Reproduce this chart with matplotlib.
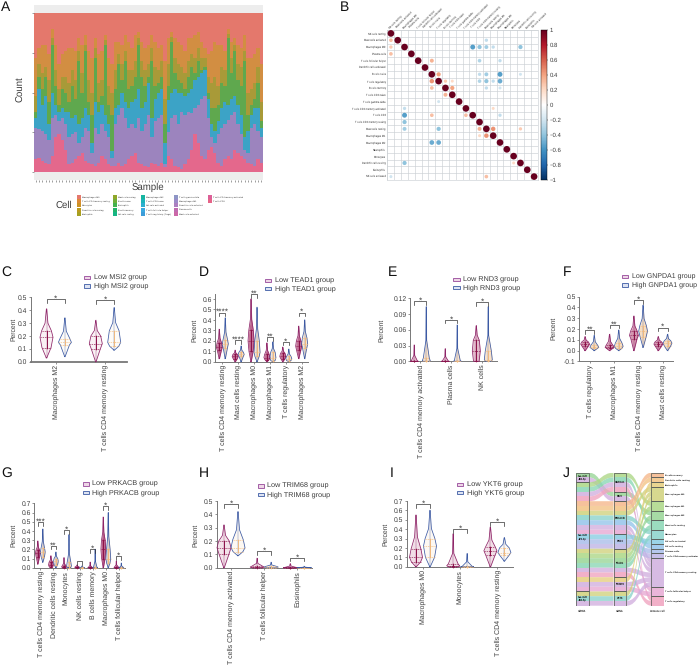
import numpy as np
import matplotlib
matplotlib.use("Agg")
import matplotlib.pyplot as plt
from matplotlib.patches import Rectangle, PathPatch
from matplotlib.path import Path
from matplotlib.colors import LinearSegmentedColormap, Normalize
from matplotlib.cm import ScalarMappable

plt.rcParams['font.family'] = ['Liberation Sans', 'DejaVu Sans']
plt.rcParams['text.hinting'] = 'no_hinting'
W, H = 698, 666
fig = plt.figure(figsize=(W / 100, H / 100), dpi=100, facecolor='white')
TXT = '#3c3c3c'

# ---------------- DATA: panel A (cumulative tops in % for each sample)
pink_top = [8,9,7,6,5,10,22,24,20,14, 5,6,8,10,12,7,6,5,4,6, 10,8,5,4,4,6,4,5,8,10,
            12,6,5,4,3,6,5,4,6,3, 10,8,4,3,2,5,8,14,24,18, 10,8,14,16,12,6,4,8,10,8,
            14,12,10,8,6,5,4,8,6]
purple_top = [28,27,26,24,20,34,36,32,34,30, 22,24,25,18,22,28,26,12,28,24, 30,26,22,9,30,36,40,34,28,30,
              28,34,26,30,36,22,32,34,36,5, 25,34,36,30,38,36,38,37,40,42, 46,48,34,22,18,24,28,30,33,36,
              38,30,24,14,12,28,30,26,22]
blue_top = [34,52,42,48,30,50,42,38,40,38, 38,34,36,30,34,40,36,18,44,38, 42,36,30,13,40,42,50,44,40,44,
            46,52,40,44,56,34,46,50,52,18, 45,50,52,50,50,48,50,52,58,60, 62,64,46,30,26,32,40,44,42,46,
            48,42,36,22,26,36,40,40,28]
green_top = [38,60,52,60,44,80,54,42,52,50, 44,54,46,70,50,76,44,36,72,44, 48,80,42,36,52,68,58,70,52,54,
             60,80,60,54,60,70,54,56,60,30, 54,82,62,58,56,52,60,66,62,70, 64,66,50,40,40,42,56,54,84,62,
             76,58,54,70,36,42,46,56,32]
olive_top = [48,68,62,66,58,84,64,52,60,60, 56,64,58,76,62,80,58,50,78,56, 58,83,54,50,64,74,68,76,64,64,
             70,84,70,64,68,78,66,64,70,46, 68,85,72,68,66,62,70,74,72,78, 72,72,60,56,60,54,66,64,87,72,
             80,68,66,76,50,52,56,66,44]
orange_top = [72,78,80,80,74,90,80,68,74,76, 78,78,76,84,80,86,76,72,84,74, 76,86,72,68,82,82,80,86,82,78,
              86,88,82,78,80,86,82,78,80,70, 84,88,84,82,80,76,84,84,86,88, 82,78,74,76,82,80,80,76,90,82,
              84,80,78,86,72,72,74,78,68]
red_top = [100] * len(pink_top)
stack_tops = [pink_top, purple_top, blue_top, green_top, olive_top, orange_top, red_top]
stack_colors = ['#E4688C', '#9C84BE', '#3CA3C6', '#5FA84E', '#A89A38', '#D28E42', '#E4786C']

legend_cells = ['Macrophages M0', 'T cells CD4 memory resting', 'Monocytes', 'Dendritic cells resting', 'Neutrophils',
                'Mast cells resting', 'B cells naive', 'Eosinophils', 'B cells memory', 'NK cells resting',
                'Macrophages M2', 'T cells CD8 naive', 'NK cells activated', 'T cells follicular helper',
                'T cells regulatory (Tregs)',
                'T cells gamma delta', 'Macrophages M1', 'Dendritic cells activated', 'Plasma cells',
                'Mast cells activated', 'T cells CD4 memory activated', 'T cells CD8']
legend_colors = ['#E5786D', '#DB8A36', '#CC9225', '#BA9A1E', '#A6A021', '#8FA72A', '#6FAE3A', '#44B24E', '#22B46B',
                 '#16B585', '#17B5A0', '#1CB3B9', '#2CAFCF', '#3AA8E0', '#3C9CD8', '#8E96C6', '#9C8BC8', '#AC7FC0',
                 '#C06CB0', '#CC68A8', '#DC6098', '#E66488']

# ---------------- DATA: panel B
corr_names = ['NK cells resting', 'Mast cells activated', 'Macrophages M0', 'Plasma cells',
              'T cells follicular helper', 'Dendritic cells activated', 'B cells naive', 'T cells regulatory',
              'B cells memory', 'T cells CD4 naive', 'T cells gamma delta', 'T cells CD4 memory activated',
              'T cells CD8', 'T cells CD4 memory resting', 'Mast cells resting', 'Macrophages M1',
              'Macrophages M2', 'Neutrophils', 'Monocytes', 'Dendritic cells resting', 'Eosinophils',
              'NK cells activated']
corr_rows = [1,1, 2,2,2,2,2,2, 3, 4,4,4, 6,6,6,6,6, 7,7,7,7,7,7,7, 8,8,8,8, 9, 10, 11,11, 12,12,12,12,
             13, 14,14,14,14,14, 15,15, 16,16, 19,19, 21,21]
corr_cols = [0,14, 0,12,13,14,15,19, 0, 6,13,16, 7,13,14,16,19, 6,8,9,13,14,15,16, 6,9,14,16, 8, 7, 2,15, 2,6,11,16,
             2, 2,7,13,15,19, 13,14, 6,7, 2,18, 0,14]
corr_vals = [.3,-.25, .25,-.55,-.4,-.35,-.25,-.4, .3, .35,-.3,-.25, .4,-.25,-.35,-.55,-.2, .45,.25,.2,-.3,-.4,-.25,-.5,
             .3,.4,-.25,-.2, .35, -.2, -.25,.2, -.55,.3,.3,-.25, -.4, -.35,-.4,.35,.45,.25, .2,.45, -.5,-.5, -.4,.2,
             -.2,.3]

# ---------------- DATA: violin panels [min, q1, median, q3, max]
c_cells = ['Macrophages M2', 'T cells CD4 memory resting']
c_low = [[.03,.11,.19,.24,.41], [.0,.10,.14,.20,.32]]
c_high = [[.04,.13,.15,.18,.34], [.09,.12,.15,.24,.42]]
c_brackets = [.487, .477]
c_stars = ['*', '*']

d_cells = ['T cells CD4 memory resting', 'Mast cells resting', 'Macrophages M0', 'Macrophages M1',
           'T cells regulatory', 'Macrophages M2']
d_low = [[.03,.11,.14,.18,.31], [.0,.03,.05,.07,.11], [.0,.1,.2,.3,.60], [.0,.02,.04,.07,.18], [.0,.03,.05,.08,.14],
         [.03,.11,.15,.2,.34]]
d_high = [[.03,.13,.17,.21,.42], [.0,.05,.07,.09,.15], [.0,.05,.09,.2,.52], [.0,.01,.04,.09,.19], [.0,.01,.03,.05,.12],
          [.03,.13,.17,.23,.40]]
d_brackets = [.47, .205, .645, .236, .19, .47]
d_stars = ['****', '****', '**', '**', '*', '*']

e_cells = ['T cells CD4 memory activated', 'Plasma cells', 'NK cells']
e_low = [[0,0,0,.001,.031], [0,0,0,.0005,.024], [0,0,.02,.04,.068]]
e_high = [[0,0,.001,.006,.104], [0,0,0,.001,.069], [0,0,.003,.02,.104]]
e_brackets = [.115, .079, .113]
e_stars = ['*', '*', '*']

f_cells = ['T cells regulatory', 'Macrophages M1', 'T cells CD4 memory resting', 'Mast cells resting']
f_low = [[0,.04,.06,.08,.13], [0,.02,.03,.05,.15], [0,.11,.14,.18,.32], [0,.04,.06,.08,.13]]
f_high = [[0,.02,.03,.05,.14], [0,.02,.04,.07,.19], [.03,.13,.18,.23,.42], [0,.04,.07,.09,.15]]
f_brackets = [.19, .24, .467, .213]
f_stars = ['**', '**', '*', '*']

g_cells = ['T cells CD4 memory resting', 'Dendritic cells resting', 'Monocytes', 'NK cells resting', 'B cells memory',
           'Macrophages M0', 'T cells follicular helper']
g_low = [[.04,.12,.16,.19,.29], [0,.01,.03,.06,.13], [0,0,.01,.02,.11], [0,0,.005,.01,.03], [0,0,0,.005,.06],
         [0,.1,.2,.3,.55], [0,0,0,.01,.07]]
g_high = [[.06,.12,.17,.21,.42], [0,.03,.07,.1,.17], [0,0,.02,.06,.36], [0,0,0,.003,.02], [0,0,0,.003,.2],
          [0,.05,.1,.2,.6], [0,0,0,.005,.05]]
g_brackets = [.493, .239, .409, .072, .203, .67, .127]
g_stars = ['***', '**', '*', '', '*', '*', '*']

h_cells = ['T cells CD4 memory activated', 'T cells follicular helper', 'Eosinophils']
h_low = [[0,.10,.15,.2,.32], [0,0,.005,.012,.07], [0,0,0,.003,.03]]
h_high = [[.09,.12,.15,.21,.42], [0,0,.005,.01,.04], [0,0,0,.001,.01]]
h_brackets = [.478, .125, .075]
h_stars = ['*', '*', '*']

i_cells = ['Macrophages M0', 'Monocytes', 'T cells CD4 memory resting']
i_low = [[0,.05,.1,.19,.55], [0,0,.01,.03,.35], [0,.12,.17,.21,.42]]
i_high = [[0,.1,.22,.3,.6], [0,0,0,.005,.14], [.06,.12,.15,.2,.31]]
i_brackets = [.665, .398, .473]
i_stars = ['*', '*', '*']

# ---------------- DATA: panel J (one record per flow)
mirna_labels = ['hsa-miR\n-804-5p', 'hsa-miR\n-874-3p', 'hsa-miR\n-584-5p']
flow_genes = ['MSI2', 'MSI2',
              'GNPDA1', 'GNPDA1', 'GNPDA1', 'GNPDA1',
              'PRKACB', 'PRKACB', 'PRKACB', 'PRKACB', 'PRKACB', 'PRKACB', 'PRKACB',
              'RND3', 'RND3', 'RND3',
              'TEAD1', 'TEAD1', 'TEAD1', 'TEAD1', 'TEAD1', 'TEAD1',
              'TRIM68', 'TRIM68', 'TRIM68',
              'YKT6', 'YKT6', 'YKT6']
flow_mirna = [0, 0] + [1] * 23 + [2] * 3
flow_cells = ['Macrophages M2', 'T cells CD4 memory resting',
              'Macrophages M1', 'Mast cells resting', 'T cells CD4 memory resting', 'T cells regulatory',
              'B cells memory', 'Dendritic cells resting', 'Macrophages M0', 'Monocytes', 'NK cells resting',
              'T cells CD4 memory resting', 'T cells follicular helper',
              'NK cells activated', 'Plasma cells', 'T cells CD4 memory activated',
              'Macrophages M0', 'Macrophages M1', 'Macrophages M2', 'Mast cells resting',
              'T cells CD4 memory resting', 'T cells regulatory',
              'Eosinophils', 'T cells CD4 memory resting', 'T cells follicular helper',
              'Macrophages M0', 'Monocytes', 'T cells CD4 memory resting']
alluvial_cells = ['B cells memory', 'Dendritic cells resting', 'Eosinophils', 'Macrophages M0', 'Macrophages M1',
                  'Macrophages M2', 'Mast cells resting', 'Monocytes', 'NK cells activated', 'NK cells resting',
                  'Plasma cells', 'T cells CD4 memory activated', 'T cells CD4 memory resting',
                  'T cells follicular helper', 'T cells regulatory']
alluvial_colors = ['#F5B78A', '#F3C283', '#E6CE7E', '#D0D27C', '#ACD786', '#98D596', '#8AD6B4', '#8AD3CB', '#8ACDE2',
                   '#94C4EA', '#A9BDEA', '#BEB4E6', '#D1AFDE', '#E7A8D3', '#F0A3BF']
gene_order = ['GNPDA1', 'MSI2', 'PRKACB', 'RND3', 'TEAD1', 'TRIM68', 'YKT6']


# ---------------- helpers
def make_axes(left, right, top, bottom):
    return fig.add_axes([left / W, 1 - bottom / H, (right - left) / W, (bottom - top) / H])


def ftext(x, y, s, **kw):
    kw.setdefault('color', TXT)
    return fig.text(x / W, 1 - y / H, s, **kw)


def frect(x, y, w, h, **kw):
    fig.add_artist(Rectangle((x / W, 1 - (y + h) / H), w / W, h / H, transform=fig.transFigure, **kw))


def violin(ax, xc, stats, hw, edge, fill, alpha, inner):
    lo, q1, med, q3, hi = stats
    shoulder = .22 if q3 > .3 * hi else .09
    ys = np.array([lo, q1, med, q3, q3 + (hi - q3) * .35, hi])
    ws = np.array([.04, .7, 1, .75, shoulder, .02]) * hw
    ax.fill_betweenx(ys, xc - ws, xc + ws, color=fill, alpha=alpha, lw=0, clip_on=False, zorder=2)
    px = np.r_[xc - ws, (xc + ws)[::-1], xc - ws[0]]
    py = np.r_[ys, ys[::-1], ys[0]]
    ax.plot(px, py, color=edge, lw=.55, clip_on=False, zorder=3)
    ax.plot([xc, xc], [lo, hi], color=edge, lw=.35, alpha=.7, clip_on=False, zorder=3)
    ax.plot([xc, xc], [q1, q3], color=inner, lw=.7, clip_on=False, zorder=4)
    for q, wq in ((q1, .7), (med, 1), (q3, .75)):
        ax.plot([xc - wq * hw, xc + wq * hw], [q, q], color=inner, lw=.45, ls=(0, (2, 1.5)), clip_on=False, zorder=4)
    ax.scatter([xc] * 3, [q1, med, q3], s=1.4, color=inner, lw=0, clip_on=False, zorder=5)


def violin_panel(cells, low, high, brackets, stars, gene, box, ylim, ystep, first, spacing, offset, hw, fills,
                 ylab, leg, spine=.7):
    left, right, top, bottom = box
    ax = make_axes(left, right, top, bottom)
    ax.patch.set_alpha(0)
    ax.set_xlim((left - first) / spacing, (right - first) / spacing)
    ax.set_ylim(*ylim)
    d, w = offset / spacing, hw / spacing
    for i in range(len(cells)):
        violin(ax, i - d, low[i], w, '#8E2468', '#A01850', fills[0], '#8A1048')
        violin(ax, i + d, high[i], w, '#3C5AA4', '#F2BE86', fills[1], '#F0B97E')
        ax.plot([i - d, i - d, i + d, i + d],
                [brackets[i] - 3.6 * (ylim[1] - ylim[0]) / (bottom - top), brackets[i], brackets[i],
                 brackets[i] - 3.6 * (ylim[1] - ylim[0]) / (bottom - top)],
                color='#333333', lw=.5, clip_on=False, zorder=6)
        ax.annotate(stars[i], (i, brackets[i]), xytext=(0, .4), textcoords='offset points', ha='center', va='center',
                    fontsize=6, color=TXT, annotation_clip=False)
    ax.set_xticks(range(len(cells)))
    ax.set_xticklabels(cells, rotation=90, ha='center', va='top', fontsize=5.05, color=TXT)
    ticks = np.arange(0, (ylim[1] - ylim[0]) / ystep + .5).astype(int) * ystep + ylim[0]
    ticks = ticks[ticks <= ylim[1] + 1e-9]
    ax.set_yticks(ticks)
    ax.set_yticklabels(['%.2f' % t if ystep < .1 else '%.1f' % t for t in ticks], fontsize=4.9, color=TXT)
    ax.tick_params(length=1.5, width=.5, pad=1, color='#666666')
    for s in ('top', 'right'):
        ax.spines[s].set_visible(False)
    ax.spines['left'].set_color('#777777')
    ax.spines['left'].set_linewidth(.7)
    ax.spines['bottom'].set_color('#777777')
    ax.spines['bottom'].set_linewidth(spine)
    ftext(ylab[0], ylab[1], 'Percent', rotation=90, ha='center', va='center', fontsize=4.9)
    lx, ly1, ly2, tx, fs = leg
    frect(lx, ly1 - 1.6, 6.4, 3.2, facecolor='#EED6E6', edgecolor='#96489A', lw=.6)
    frect(lx, ly2 - 1.6, 6.4, 3.2, facecolor='#DDE3F2', edgecolor='#3C5AA4', lw=.6)
    ftext(tx, ly1, 'Low %s group' % gene, ha='left', va='center', fontsize=fs)
    ftext(tx, ly2, 'High %s group' % gene, ha='left', va='center', fontsize=fs)
    return ax


# ---------------- Panel A
ax = make_axes(34, 263, 5, 180)
ax.set_facecolor('#EDEDED')
tops = np.array(stack_tops, float) / 100
xs = np.arange(tops.shape[1])
bottoms = np.zeros(tops.shape[1])
for t, col in zip(tops, stack_colors):
    ax.bar(xs, t - bottoms, bottom=bottoms, width=1.03, color=col, lw=0)
    bottoms = t.copy()
ax.set_xlim(-.5, tops.shape[1] - .5)
ax.set_ylim(-.05, 1.05)
ax.set_yticks([0, .25, .5, .75, 1])
ax.set_yticklabels([])
ax.set_xticks(xs)
ax.set_xticklabels([])
ax.tick_params(axis='y', length=1.5, width=.4, color='#555555')
ax.tick_params(axis='x', length=1.2, width=.5, color='#777777', pad=0)
for s in ax.spines.values():
    s.set_visible(False)
ftext(148, 187, 'Sample', ha='center', va='center', fontsize=6.9)
ftext(21, 89, 'Count', rotation=90, ha='center', va='center', fontsize=6.9)
ftext(56, 205.7, 'Cell', ha='left', va='center', fontsize=6.9)
key_x = [77, 113.3, 141.3, 174.3, 207.7]
key_y = [196.7, 201, 205.3, 209.7, 214]
for n, (name, col) in enumerate(zip(legend_cells, legend_colors)):
    c, r = divmod(n, 5)
    frect(key_x[c], key_y[r] - 2.1, 4, 4.2, facecolor=col, edgecolor='none')
    ftext(key_x[c] + 5, key_y[r], name, ha='left', va='center', fontsize=1.6, color='#222222')

# ---------------- Panel B
cmap = LinearSegmentedColormap.from_list('corr', ['#053061', '#2166AC', '#4393C3', '#92C5DE', '#D1E5F0', '#FFFFFF',
                                                  '#FDDBC7', '#F4A582', '#D6604D', '#B2182B', '#67001F'])
norm = Normalize(-1, 1)
ax = make_axes(387.5, 537.5, 30, 180)
n = len(corr_names)
ax.set_xlim(-.5, n - .5)
ax.set_ylim(n - .5, -.5)
ax.set_xticks(np.arange(-.5, n), minor=False)
ax.set_yticks(np.arange(-.5, n), minor=False)
ax.set_xticklabels([])
ax.set_yticklabels([])
ax.tick_params(length=0)
ax.grid(True, color='#CBD0D4', lw=.45)
ax.set_axisbelow(True)
for s in ax.spines.values():
    s.set_color('#CBD0D4')
    s.set_linewidth(.45)
diag = np.arange(n)
ax.scatter(diag, diag, s=23, c=np.ones(n), cmap=cmap, norm=norm, lw=0, zorder=3)
ax.scatter(corr_cols, corr_rows, s=23 * np.abs(corr_vals), c=corr_vals, cmap=cmap, norm=norm, lw=0, zorder=3)
for i, name in enumerate(corr_names):
    ax.text(-.75, i, name, ha='right', va='center', fontsize=1.85, color='#222222', clip_on=False)
    ax.text(i - .1, -.7, name, ha='left', va='bottom', rotation=45, rotation_mode='anchor', fontsize=1.85,
            color='#222222', clip_on=False)
cax = make_axes(540.7, 546.7, 30, 180)
cb = fig.colorbar(ScalarMappable(norm=norm, cmap=cmap), cax=cax)
cb.set_ticks(np.round(np.arange(-1, 1.01, .2), 1))
cb.set_ticklabels(['−1', '−0.8', '−0.6', '−0.4', '−0.2', '0', '0.2', '0.4', '0.6', '0.8', '1'])
cax.tick_params(labelsize=4.3, length=1, width=.3, pad=1, labelcolor=TXT)
cb.outline.set_linewidth(.3)

# ---------------- Violin panels
violin_panel(c_cells, c_low, c_high, c_brackets, c_stars, 'MSI2', (30.7, 126.7, 297.3, 361.7), (0, .5), .1,
             55.7, 49.3, 9.2, 6.5, (.06, .06), (13.7, 329.7), (83.5, 277.5, 286, 93.7, 5.2), spine=1.3)
violin_panel(d_cells, d_low, d_high, d_brackets, d_stars, 'TEAD1', (215.3, 308.3, 294.3, 361.7), (0, .645), .1,
             222.3, 15.87, 3, 3, (.6, .4), (195, 330), (265, 280.3, 288.7, 275.3, 5.2))
violin_panel(e_cells, e_low, e_high, e_brackets, e_stars, 'RND3', (410, 496.7, 298.3, 361.3), (0, .12), .03,
             420.3, 31, 6, 4, (.3, .45), (382, 330), (453.3, 279.3, 287.7, 462.7, 5.2))
violin_panel(f_cells, f_low, f_high, f_brackets, f_stars, 'GNPDA1', (579.3, 673, 296.7, 361.3), (-.1, .5), .1,
             589.7, 24.4, 4.6, 4.4, (.45, .5), (554, 328.7), (622, 276.7, 285, 632, 5.0))
violin_panel(g_cells, g_low, g_high, g_brackets, g_stars, 'PRKACB', (34.3, 125, 503.3, 567.7), (0, .7), .1,
             40.3, 13.1, 2.5, 2.4, (.65, .4), (13.7, 535.7), (82.5, 484, 492.3, 91.7, 5.2))
violin_panel(h_cells, h_low, h_high, h_brackets, h_stars, 'TRIM68', (216.7, 311.7, 501, 567.7), (0, .5), .1,
             231, 33.2, 7, 7, (.12, .1), (195.7, 535), (258, 486, 494.3, 266.7, 5.2))
violin_panel(i_cells, i_low, i_high, i_brackets, i_stars, 'YKT6', (406.7, 513.3, 501, 566.7), (0, .7), .1,
             423, 37.2, 7, 6.5, (.14, .1), (385.7, 534), (456.7, 484.3, 492.7, 467.3, 5.4))

# ---------------- Panel J
ax = make_axes(576, 664, 472.7, 605.7)
ax.axis('off')
centers = [0, 37.5, 75.2]
halfw = 6.4
ax.set_xlim(-6.5, 81.5)
total = len(flow_cells)
ax.set_ylim(total, 0)
gidx = [gene_order.index(g) for g in flow_genes]
cidx = [alluvial_cells.index(c) for c in flow_cells]
order_col1 = sorted(range(total), key=lambda k: (flow_mirna[k], gidx[k], cidx[k]))
order_col2 = sorted(range(total), key=lambda k: (gidx[k], cidx[k]))
order_col3 = sorted(range(total), key=lambda k: (cidx[k], gidx[k]))
pos = [dict((k, i) for i, k in enumerate(o)) for o in (order_col1, order_col2, order_col3)]


def ribbon(x0, x1, y0, y1, col):
    mid = (x0 + x1) / 2
    verts = [(x0, y0), (mid, y0), (mid, y1), (x1, y1), (x1, y1 + 1), (mid, y1 + 1), (mid, y0 + 1), (x0, y0 + 1), (x0, y0)]
    codes = [Path.MOVETO, Path.CURVE4, Path.CURVE4, Path.CURVE4, Path.LINETO, Path.CURVE4, Path.CURVE4, Path.CURVE4,
             Path.CLOSEPOLY]
    ax.add_patch(PathPatch(Path(verts, codes), facecolor=col, edgecolor='none', alpha=.78, zorder=2))


for k in range(total):
    col = alluvial_colors[cidx[k]]
    for c in range(3):
        ax.add_patch(Rectangle((centers[c] - halfw, pos[c][k]), 2 * halfw, 1, facecolor=col, edgecolor='none',
                               alpha=.85, zorder=2))
    ribbon(centers[0] + halfw, centers[1] - halfw, pos[0][k], pos[1][k], col)
    ribbon(centers[1] + halfw, centers[2] - halfw, pos[1][k], pos[2][k], col)


def stratum(c, y0, y1, label, side=False):
    ax.add_patch(Rectangle((centers[c] - halfw, y0), 2 * halfw, y1 - y0, facecolor='none', edgecolor='#5a5f5a', lw=.55,
                           zorder=4))
    if side:
        ax.text(centers[c] + halfw + 1.2, (y0 + y1) / 2, label, ha='left', va='center', fontsize=1.7, weight='bold',
                color='#111111', zorder=5, clip_on=False)
    else:
        ax.text(centers[c], (y0 + y1) / 2, label, ha='center', va='center', fontsize=1.85, weight='bold',
                color='#111111', zorder=5, linespacing=1.1)


for m, label in enumerate(mirna_labels):
    ys = [pos[0][k] for k in range(total) if flow_mirna[k] == m]
    stratum(0, min(ys), max(ys) + 1, label)
for g in gene_order:
    ys = [pos[1][k] for k in range(total) if flow_genes[k] == g]
    stratum(1, min(ys), max(ys) + 1, g)
for cell in alluvial_cells:
    ys = [pos[2][k] for k in range(total) if flow_cells[k] == cell]
    stratum(2, min(ys), max(ys) + 1, cell, side=True)
for c, name in zip(centers, ['miRNA', 'mRNA', 'Immune cell']):
    ax.text(c, total + 1.25, name, ha='center', va='center', fontsize=1.85, weight='bold', color='#222222',
            clip_on=False)

# ---------------- Panel letters
letters = {'A': (1, 7.5), 'B': (340, 7), 'C': (1, 272), 'D': (199, 272), 'E': (388, 272), 'F': (563, 272),
           'G': (1, 473), 'H': (199, 473), 'I': (390, 473), 'J': (563, 473)}
for k, (x, y) in letters.items():
    ftext(x, y, k, ha='left', va='center', fontsize=10, color='#111111')

fig.savefig('out.png', dpi=100, facecolor='white')
